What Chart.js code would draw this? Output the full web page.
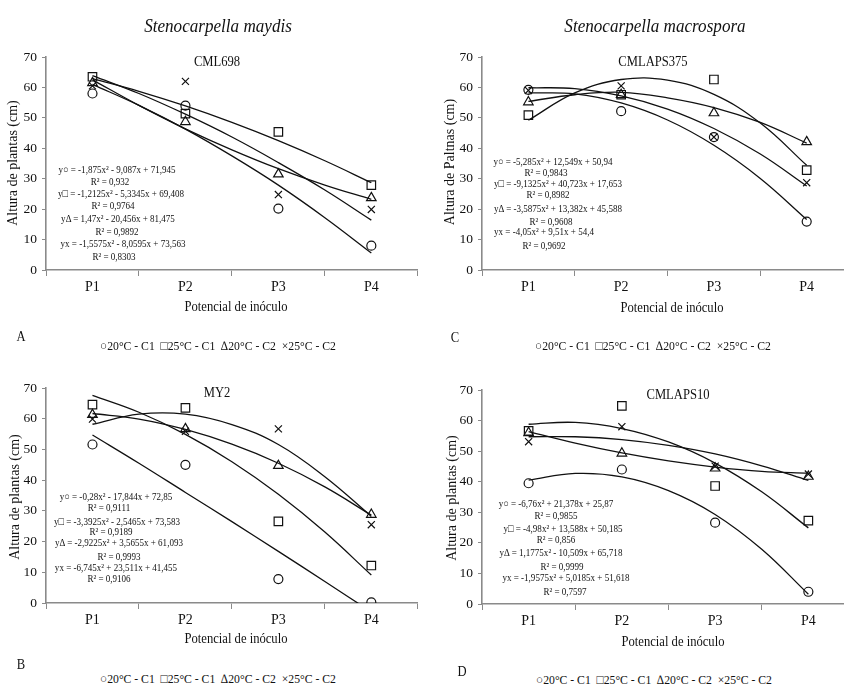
<!DOCTYPE html>
<html>
<head>
<meta charset="utf-8">
<script src="https://cdn.jsdelivr.net/npm/chart.js@4"></script>
<style>
  body { margin: 0; background: #fff; }
  #page { position: relative; width: 851px; height: 686px; overflow: hidden; font-family: "Liberation Serif", "Times New Roman", serif; color: #111; }
  canvas { position: absolute; }
  .t { position: absolute; white-space: nowrap; transform: translate(-50%, -50%) scaleX(0.9); line-height: 1; }
  .ytitle { position: absolute; white-space: nowrap; transform: translate(-50%, -50%) rotate(-90deg); font-size: 14px; line-height: 1; }
  .eq { position: absolute; white-space: nowrap; transform: translate(-50%, -50%) scaleX(0.86); font-size: 10.5px; line-height: 1; }
</style>
</head>
<body>
<div id="page">
  <canvas id="cA" width="419" height="310" style="left:6px;top:0px"></canvas>
  <canvas id="cC" width="409" height="310" style="left:442px;top:0px"></canvas>
  <canvas id="cB" width="419" height="303" style="left:6px;top:340px"></canvas>
  <canvas id="cD" width="409" height="304" style="left:442px;top:340px"></canvas>
</div>
<script>
const potencial = ['P1', 'P2', 'P3', 'P4'];
const nivel = [1, 2, 3, 4];
const nivelCurva = [1, 1.5, 2, 2.5, 3, 3.5, 4];
const tratamentos = ['20°C - C1', '25°C - C1', '20°C - C2', '25°C - C2'];
const yTicks = [0, 10, 20, 30, 40, 50, 60, 70];

// ordem: ○ 20°C-C1, □ 25°C-C1, △ 20°C-C2, × 25°C-C2
const cml698Obs = [[58, 54, 20.2, 8], [63.5, 51.4, 45.4, 27.9], [61.5, 48.7, 31.5, 23.7], [60.5, 62, 24.8, 19.9]];
const cml698Fit = [
  [61.0, 54.1, 46.3, 37.5, 27.9, 17.2, 5.6],
  [62.9, 58.7, 53.9, 48.5, 42.5, 35.9, 28.7],
  [62.5, 54.1, 46.4, 39.5, 33.3, 27.9, 23.2],
  [63.9, 58.0, 51.2, 43.7, 35.3, 26.3, 16.4]
];
const cmlaps375Obs = [[59.2, 52.2, 43.7, 15.9], [50.9, 57.6, 62.6, 32.8], [55.2, 57.6, 51.6, 42.1], [59, 60.5, 43.7, 28.7]];
const cmlaps375Fit = [
  [58.2, 57.9, 54.9, 49.3, 41.0, 30.1, 16.6],
  [49.2, 58.2, 62.6, 62.4, 57.7, 48.3, 34.4],
  [55.4, 57.6, 58.4, 56.6, 53.4, 48.5, 41.7],
  [59.9, 59.6, 57.2, 52.9, 46.5, 38.1, 27.6]
];
const my2Obs = [[51.6, 45.0, 7.8, 0.2], [64.6, 63.5, 26.6, 12.2], [61.3, 56.7, 44.7, 28.8], [59.9, 55.9, 56.7, 25.5]];
const my2Fit = [
  [54.7, 45.5, 36.0, 26.5, 16.8, 7.0, -2.9],
  [67.6, 62.1, 54.9, 46.0, 35.4, 23.1, 9.1],
  [61.7, 59.9, 56.5, 51.7, 45.5, 37.8, 28.6],
  [58.2, 61.5, 61.5, 58.1, 51.6, 41.1, 28.2]
];
const cmlaps10Obs = [[39.5, 44.0, 26.6, 4.0], [56.6, 64.8, 38.6, 27.3], [56.0, 49.3, 44.4, 41.7], [53.1, 58.0, 45.1, 42.5]];
const cmlaps10Fit = [
  [40.5, 42.7, 41.6, 37.1, 29.3, 17.9, 3.2],
  [58.8, 59.4, 57.4, 53.0, 46.1, 36.7, 24.9],
  [56.4, 52.6, 49.4, 46.8, 44.8, 43.4, 42.8],
  [54.7, 54.7, 53.8, 51.9, 49.1, 45.2, 40.4]
];

const simbolos = ['circle', 'rect', 'triangle', 'crossRot'];
const raios = [4.5, 6, 5.5, 5];
const eixoCor = '#8a8a8a';

function panel(id, obs, fit, xMax, padTop) {
  const datasets = [];
  fit.forEach((serie, i) => {
    datasets.push({
      label: tratamentos[i] + ' ajuste',
      data: nivelCurva.map((x, k) => ({ x: x, y: serie[k] })),
      showLine: true,
      borderColor: '#111',
      borderWidth: 1.3,
      pointRadius: 0,
      tension: 0.4
    });
  });
  obs.forEach((serie, i) => {
    datasets.push({
      label: tratamentos[i],
      data: nivel.map((x, k) => ({ x: x, y: serie[k] })),
      showLine: false,
      pointStyle: simbolos[i],
      pointRadius: raios[i],
      pointBorderColor: '#111',
      pointBackgroundColor: 'rgba(0,0,0,0)',
      pointBorderWidth: 1.2
    });
  });
  return new Chart(document.getElementById(id), {
    type: 'scatter',
    data: { datasets: datasets },
    options: {
      responsive: false,
      animation: false,
      layout: { padding: { top: padTop, right: 0, left: 0, bottom: 0 } },
      plugins: { legend: { display: false }, tooltip: { enabled: false } },
      scales: {
        x: {
          type: 'linear',
          min: 0.5,
          max: xMax,
          afterFit: (s) => { s.height = 40; },
          border: { color: eixoCor, width: 1.6 },
          grid: {
            drawOnChartArea: false,
            tickLength: 6,
            color: (ctx) => {
              const v = ctx.tick ? ctx.tick.value : 0;
              return Math.abs(v - Math.round(v)) < 1e-6 ? 'rgba(0,0,0,0)' : eixoCor;
            }
          },
          ticks: {
            stepSize: 0.5,
            includeBounds: false,
            autoSkip: false,
            maxRotation: 0,
            padding: 3,
            color: '#111',
            font: { family: 'Liberation Serif', size: 14 },
            callback: (v) => Math.abs(v - Math.round(v)) < 1e-6 ? potencial[Math.round(v) - 1] : ''
          }
        },
        y: {
          min: 0,
          max: 70,
          afterFit: (s) => { s.width = 40; },
          afterBuildTicks: (s) => { s.ticks = yTicks.map(v => ({ value: v })); },
          border: { color: eixoCor, width: 1.6 },
          grid: { drawOnChartArea: false, tickLength: 4, color: eixoCor },
          ticks: { padding: 5, color: '#111', font: { family: 'Liberation Serif', size: 13.5 } }
        }
      }
    }
  });
}

panel('cA', cml698Obs, cml698Fit, 4.5, 57);
panel('cC', cmlaps375Obs, cmlaps375Fit, 4.4, 57);
panel('cB', my2Obs, my2Fit, 4.5, 48);
panel('cD', cmlaps10Obs, cmlaps10Fit, 4.38, 50);

// textos
const page = document.getElementById('page');
function txt(s, x, y, size, cls, extra) {
  const d = document.createElement('div');
  d.className = cls || 't';
  d.textContent = s;
  d.style.left = x + 'px';
  d.style.top = y + 'px';
  if (size) d.style.fontSize = size + 'px';
  if (extra) Object.assign(d.style, extra);
  page.appendChild(d);
}
txt('Stenocarpella maydis', 218, 25, 19, 't', { fontStyle: 'italic' });
txt('Stenocarpella macrospora', 655, 25, 19, 't', { fontStyle: 'italic' });
txt('CML698', 217, 62, 14);
txt('CMLAPS375', 653, 62, 14);
txt('MY2', 217, 393, 14);
txt('CMLAPS10', 678, 395, 14);
txt('Potencial de inóculo', 236, 307, 14);
txt('Potencial de inóculo', 672, 308, 14);
txt('Potencial de inóculo', 236, 639, 14);
txt('Potencial de inóculo', 673, 642, 14);
txt('Altura de plantas (cm)', 13, 163, 14, 'ytitle');
txt('Altura de Paltnas (cm)', 450, 162, 14, 'ytitle');
txt('Altura de plantas (cm)', 15, 497, 14, 'ytitle');
txt('Altura de plantas (cm)', 452, 498, 14, 'ytitle');
txt('A', 21, 337, 14);
txt('B', 21, 665, 14);
txt('C', 455, 338, 14);
txt('D', 462, 672, 14);

const legenda = '○20°C - C1  □25°C - C1  ∆20°C - C2  ×25°C - C2';
[[218, 345], [653, 345], [218, 678], [654, 679]].forEach(p => txt(legenda, p[0], p[1], 13, 't', { whiteSpace: 'pre' }));

const eqA = ['y○ = -1,875x² - 9,087x + 71,945', 'R² = 0,932', 'y□ = -1,2125x² - 5,3345x + 69,408', 'R² = 0,9764',
  'yΔ = 1,47x² - 20,456x + 81,475', 'R² = 0,9892', 'yx = -1,5575x² - 8,0595x + 73,563', 'R² = 0,8303'];
const eqC = ['y○ = -5,285x² + 12,549x + 50,94', 'R² = 0,9843', 'y□ = -9,1325x² + 40,723x + 17,653', 'R² = 0,8982',
  'yΔ = -3,5875x² + 13,382x + 45,588', 'R² = 0,9608', 'yx = -4,05x² + 9,51x + 54,4', 'R² = 0,9692'];
const eqB = ['y○ = -0,28x² - 17,844x + 72,85', 'R² = 0,9111', 'y□ = -3,3925x² - 2,5465x + 73,583', 'R² = 0,9189',
  'yΔ = -2,9225x² + 3,5655x + 61,093', 'R² = 0,9993', 'yx = -6,745x² + 23,511x + 41,455', 'R² = 0,9106'];
const eqD = ['y○ = -6,76x² + 21,378x + 25,87', 'R² = 0,9855', 'y□ = -4,98x² + 13,588x + 50,185', 'R² = 0,856',
  'yΔ = 1,1775x² - 10,509x + 65,718', 'R² = 0,9999', 'yx = -1,9575x² + 5,0185x + 51,618', 'R² = 0,7597'];
const posA = [[117, 170], [110, 182], [121, 194], [113, 206], [118, 219], [117, 232], [123, 244], [114, 257]];
const posC = [[553, 162], [546, 173], [558, 184], [548, 195], [558, 209], [551, 222], [544, 232], [544, 246]];
const posB = [[116, 497], [109, 508], [117, 522], [111, 532], [119, 543], [119, 557], [116, 568], [109, 579]];
const posD = [[556, 504], [556, 516], [563, 529], [556, 540], [561, 553], [562, 567], [566, 578], [565, 592]];
[[eqA, posA], [eqC, posC], [eqB, posB], [eqD, posD]].forEach(([eqs, pos]) => {
  eqs.forEach((s, i) => txt(s, pos[i][0], pos[i][1], null, 'eq'));
});
</script>
</body>
</html>
